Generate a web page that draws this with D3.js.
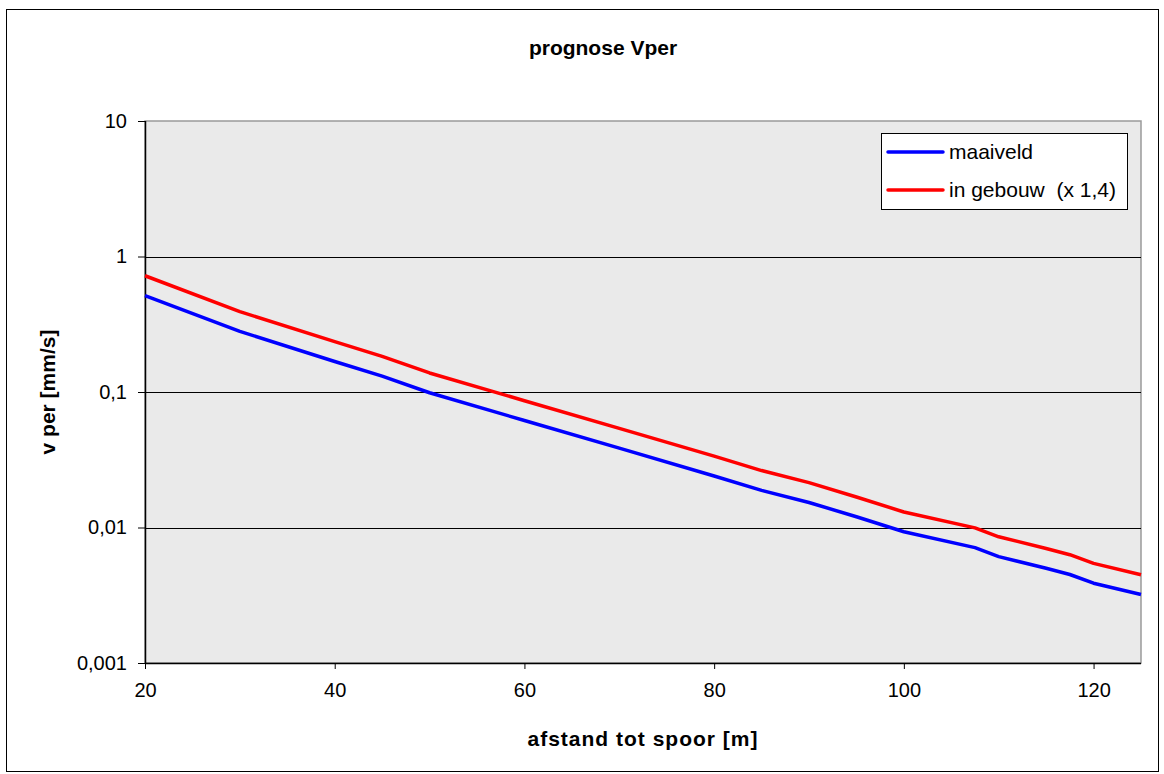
<!DOCTYPE html>
<html>
<head>
<meta charset="utf-8">
<script src="https://cdn.jsdelivr.net/npm/d3@7"></script>
<style>
  body { margin: 0; background: #fff; }
  text { font-family: "Liberation Sans", Arial, sans-serif; fill: #000; }
</style>
</head>
<body>
<div id="chart"></div>
<script>
// Data
var afstand = [20, 30, 40, 45, 50, 60, 70, 80, 85, 90, 95, 100, 107.5, 110, 115, 117.5, 120, 125];
var maaiveld = [0.515, 0.28, 0.168, 0.131, 0.0987, 0.0616, 0.0385, 0.024, 0.0188, 0.0153, 0.012, 0.0093, 0.0071, 0.0061, 0.0050, 0.0045, 0.00388, 0.0032];
var gebouw = maaiveld.map(function(v) { return v * 1.4; }); // "x 1,4" as in the legend
var xTicks = [20, 40, 60, 80, 100, 120];
var yTicks = [0.001, 0.01, 0.1, 1, 10];
var yTickLabels = ["0,001", "0,01", "0,1", "1", "10"];
var seriesNames = ["maaiveld", "in gebouw  (x 1,4)"];
var seriesColors = ["#0000ff", "#ff0000"];

var svgWidth = 1164;
var svgHeight = 774;

var margin = { top: 121, right: 23, bottom: 111, left: 145 };
var width = 1141 - margin.left;
var height = 663 - margin.top;

var svg = d3.select("#chart")
  .append("svg")
  .attr("width", svgWidth)
  .attr("height", svgHeight);

// Outer chart border
svg.append("rect")
  .attr("x", 6.5).attr("y", 9.5)
  .attr("width", 1152).attr("height", 762)
  .attr("fill", "none").attr("stroke", "#000").attr("stroke-width", 1);

var chartGroup = svg.append("g")
  .attr("transform", `translate(${margin.left}, ${margin.top})`);

// Scales
var xScale = d3.scaleLinear().domain([20, 125]).range([0, width]);
var yScale = d3.scaleLog().domain([0.001, 10]).range([height, 0]);

// Plot area background
chartGroup.append("rect")
  .attr("width", width).attr("height", height)
  .attr("fill", "#eaeaea")
  .attr("stroke", "#9a9a9a").attr("stroke-width", 1.5);

// Gridlines
chartGroup.selectAll("line.grid")
  .data([0.01, 0.1, 1])
  .enter()
  .append("line")
  .attr("class", "grid")
  .attr("x1", 0).attr("x2", width)
  .attr("y1", d => Math.round(yScale(d)) + 0.5)
  .attr("y2", d => Math.round(yScale(d)) + 0.5)
  .attr("stroke", "#000").attr("stroke-width", 1);

// Axes
var yAxis = d3.axisLeft(yScale)
  .tickValues(yTicks)
  .tickSize(7)
  .tickPadding(11)
  .tickFormat((d, i) => yTickLabels[i]);

var xAxis = d3.axisBottom(xScale)
  .tickValues(xTicks)
  .tickSize(6)
  .tickPadding(14)
  .tickFormat(d3.format("d"));

var yG = chartGroup.append("g").call(yAxis);
var xG = chartGroup.append("g").attr("transform", `translate(0, ${height})`).call(xAxis);

[yG, xG].forEach(function(g) {
  g.selectAll("path").attr("stroke", "#000").attr("stroke-width", 1.5);
  g.selectAll("line").attr("stroke", "#000");
  g.selectAll("text")
    .style("font-family", "Liberation Sans, Arial, sans-serif")
    .style("font-size", "20px")
    .attr("fill", "#000");
});
yG.select("path").attr("d", `M0.5,0V${height}`);
xG.select("path").attr("d", `M0,0.5H${width}`);

// Lines
var line = d3.line()
  .x((d, i) => xScale(afstand[i]))
  .y(d => yScale(d));

[maaiveld, gebouw].forEach(function(series, i) {
  chartGroup.append("path")
    .datum(series)
    .attr("d", line)
    .attr("fill", "none")
    .attr("stroke", seriesColors[i])
    .attr("stroke-width", 3.5)
    .attr("stroke-linejoin", "round");
});

// Title
svg.append("text")
  .attr("x", 603).attr("y", 55)
  .attr("text-anchor", "middle")
  .style("font-size", "21px").style("font-weight", "bold")
  .text("prognose Vper");

// Axis titles
svg.append("text")
  .attr("x", 643).attr("y", 746)
  .attr("text-anchor", "middle")
  .style("font-size", "21px").style("font-weight", "bold")
  .style("letter-spacing", "1px")
  .text("afstand tot spoor [m]");

svg.append("text")
  .attr("transform", "translate(55, 392) rotate(-90)")
  .attr("text-anchor", "middle")
  .style("font-size", "21px").style("font-weight", "bold")
  .text("v per [mm/s]");

// Legend
var legend = svg.append("g").attr("transform", "translate(881, 133)");
legend.append("rect")
  .attr("x", 0.5).attr("y", 0.5)
  .attr("width", 246).attr("height", 76)
  .attr("fill", "#fff").attr("stroke", "#000").attr("stroke-width", 1);

seriesNames.forEach(function(name, i) {
  var y = 19 + i * 38;
  legend.append("line")
    .attr("x1", 7).attr("x2", 62)
    .attr("y1", y).attr("y2", y)
    .attr("stroke", seriesColors[i]).attr("stroke-width", 3.5)
    .attr("stroke-linecap", "round");
  legend.append("text")
    .attr("x", 68).attr("y", y + 7)
    .style("font-size", "21px")
    .style("white-space", "pre")
    .attr("xml:space", "preserve")
    .text(name);
});
</script>
</body>
</html>
